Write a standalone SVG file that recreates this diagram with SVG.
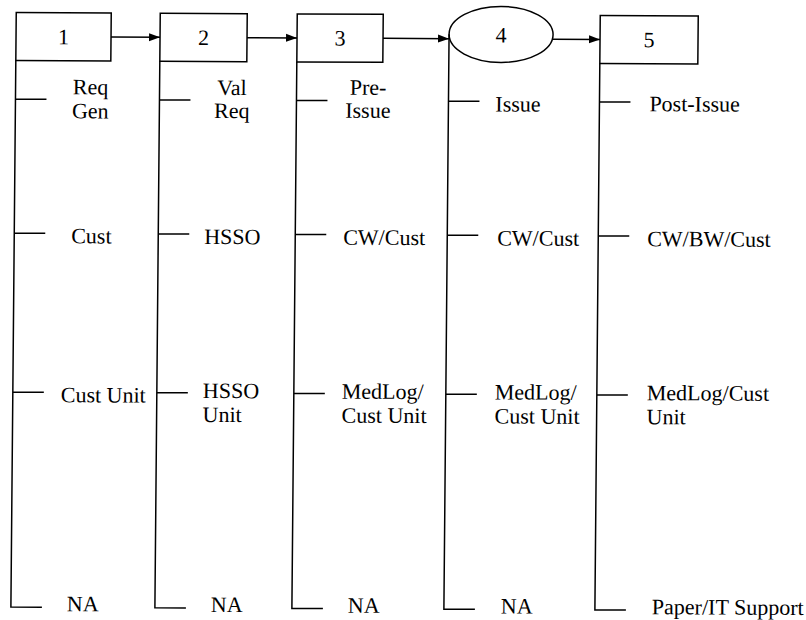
<svg xmlns="http://www.w3.org/2000/svg" width="806" height="620" viewBox="0 0 806 620">
<style>
.s{fill:none;stroke:#000;stroke-width:1.5}
.b{fill:#fff;stroke:#000;stroke-width:1.5}
text{font-family:"Liberation Serif","Times New Roman",serif;font-size:22px;fill:#000}
.c{text-anchor:middle}
</style>
<defs>
<marker id="ah" markerUnits="userSpaceOnUse" markerWidth="12" markerHeight="10" refX="11" refY="5" orient="auto">
<path d="M0,1 L11,5 L0,9 Z" fill="#000"/>
</marker>
</defs>
<rect width="806" height="620" fill="#fff"/>
<g transform="matrix(1 0.005 -0.009 1 0.36 -0.08)">
<g id="connectors">
<line class="s" x1="111" y1="36.5" x2="160" y2="36.5" marker-end="url(#ah)"/>
<line class="s" x1="247" y1="36.5" x2="297" y2="36.5" marker-end="url(#ah)"/>
<line class="s" x1="383" y1="36.5" x2="449" y2="36.5" marker-end="url(#ah)"/>
<line class="s" x1="553" y1="36.5" x2="600" y2="36.5" marker-end="url(#ah)"/>
</g>
<g id="node1">
<rect class="b" x="16" y="12.5" width="95" height="48"/>
<text class="c" x="63.5" y="44">1</text>
<path class="s" d="M16,60.5 V607 H47 M16,99 H47 M16,233 H47 M16,392 H47"/>
<text class="c"><tspan x="91" y="94">Req</tspan><tspan x="91" y="118">Gen</tspan></text>
<text x="73" y="243">Cust</text>
<text x="64" y="402">Cust Unit</text>
<text x="72" y="611">NA</text>
</g>
<g id="node2">
<rect class="b" x="160" y="12.5" width="87" height="48"/>
<text class="c" x="203.5" y="44">2</text>
<path class="s" d="M160,60.5 V607 H191 M160,99 H191 M160,233 H191 M160,392 H191"/>
<text class="c"><tspan x="232.5" y="94">Val</tspan><tspan x="232.5" y="117">Req</tspan></text>
<text x="206" y="243">HSSO</text>
<text><tspan x="206" y="397">HSSO</tspan><tspan x="206" y="421">Unit</tspan></text>
<text x="216" y="611">NA</text>
</g>
<g id="node3">
<rect class="b" x="297" y="12.5" width="86" height="48"/>
<text class="c" x="340" y="44">3</text>
<path class="s" d="M297,60.5 V607 H328 M297,99 H328 M297,233 H328 M297,392 H328"/>
<text class="c"><tspan x="368.5" y="93">Pre-</tspan><tspan x="368.5" y="116">Issue</tspan></text>
<text x="345" y="243">CW/Cust</text>
<text><tspan x="345" y="397">MedLog/</tspan><tspan x="345" y="421">Cust Unit</tspan></text>
<text x="353" y="611">NA</text>
</g>
<g id="node4">
<ellipse class="b" cx="501" cy="32" rx="52" ry="28"/>
<text class="c" x="501" y="40">4</text>
<path class="s" d="M449,32 V607 H480 M449,99 H480 M449,233 H480 M449,392 H480"/>
<text x="496" y="109">Issue</text>
<text x="499" y="243">CW/Cust</text>
<text><tspan x="498" y="397">MedLog/</tspan><tspan x="498" y="421">Cust Unit</tspan></text>
<text x="506" y="611">NA</text>
</g>
<g id="node5">
<rect class="b" x="600" y="12.5" width="98" height="48"/>
<text class="c" x="649" y="44">5</text>
<path class="s" d="M600,60.5 V607 H631 M600,99 H631 M600,233 H631 M600,392 H631"/>
<text x="650" y="108">Post-Issue</text>
<text x="649" y="243">CW/BW/Cust</text>
<text><tspan x="650" y="397">MedLog/Cust</tspan><tspan x="650" y="421">Unit</tspan></text>
<text x="657" y="611">Paper/IT Support</text>
</g>
</g>
</svg>
